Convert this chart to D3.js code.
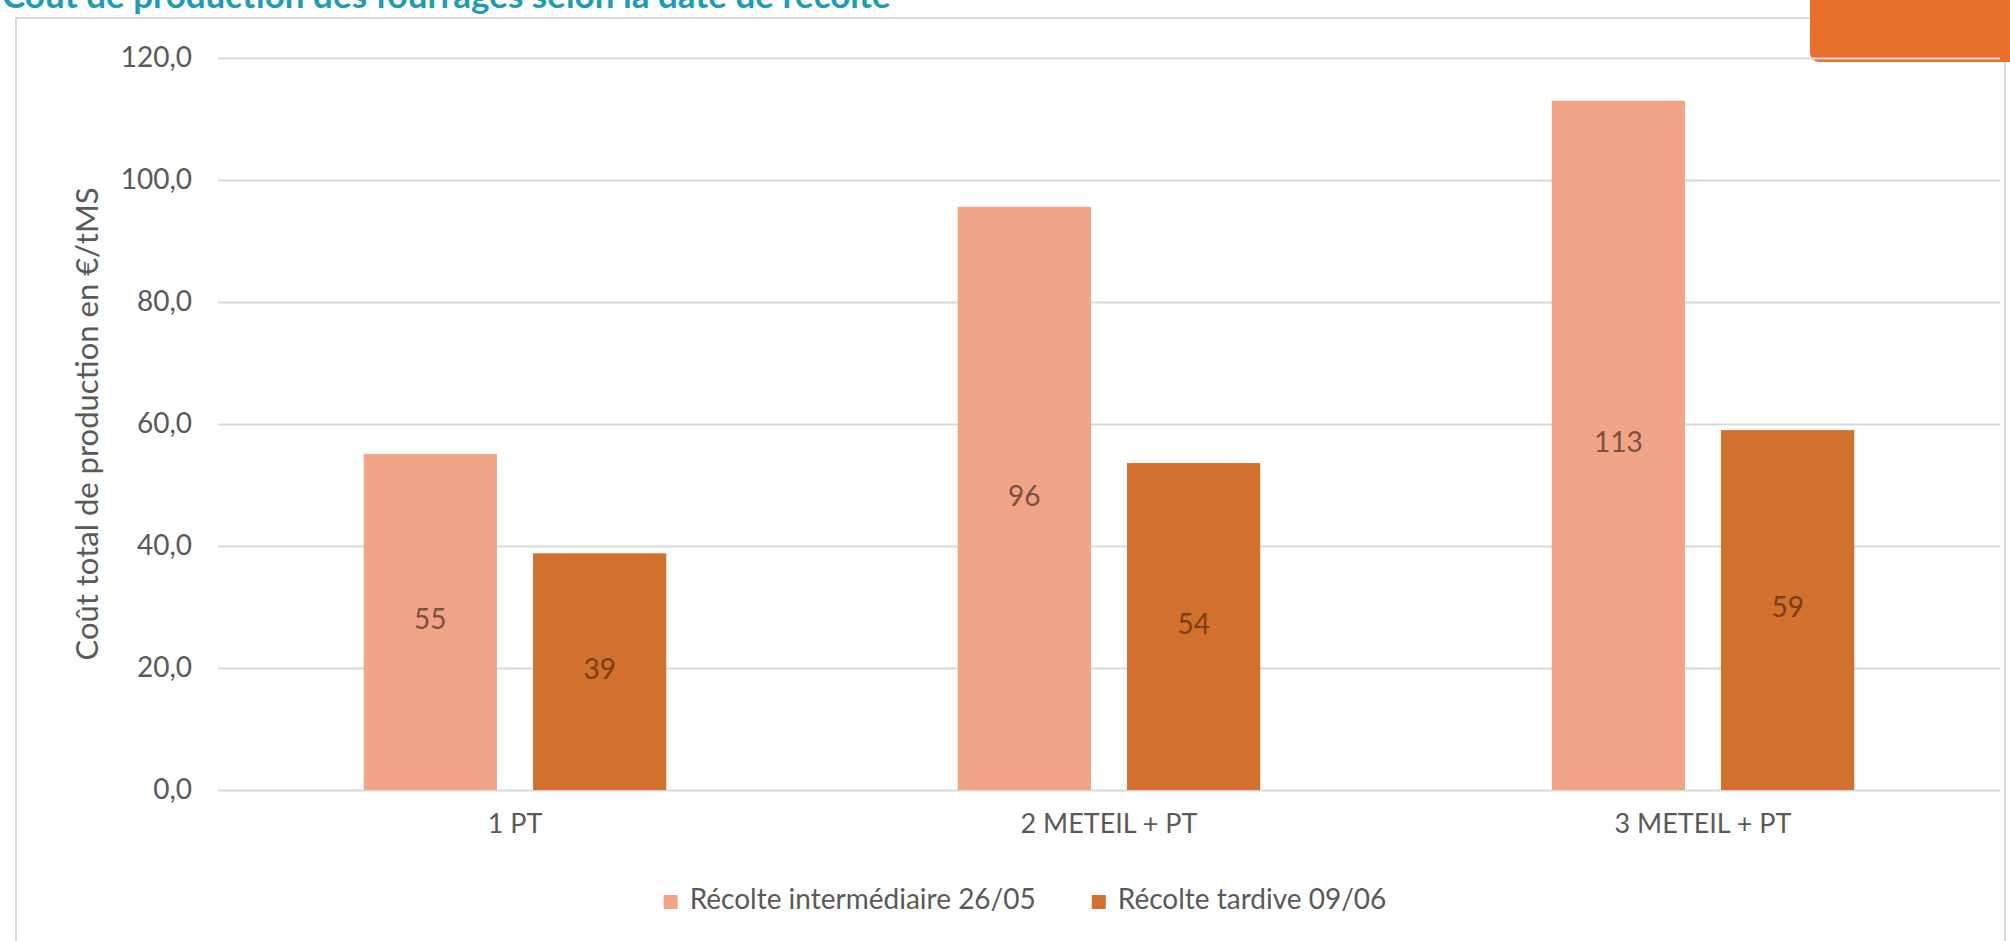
<!DOCTYPE html>
<html>
<head>
<meta charset="utf-8">
<script src="https://cdn.jsdelivr.net/npm/d3@7"></script>
<style>
  html, body { margin: 0; padding: 0; background: #ffffff; }
  svg { display: block; }
  text { font-family: Lato, "Open Sans", sans-serif; }
</style>
</head>
<body>
<svg id="chart" width="2010" height="941"></svg>
<script>
// ---- data ----
const categories = ["1 PT", "2 METEIL + PT", "3 METEIL + PT"];
const seriesNames = ["Récolte intermédiaire 26/05", "Récolte tardive 09/06"];
const interValues = [55.1, 95.6, 113.0];
const tardiveValues = [38.8, 53.6, 59.0];
const yTicks = [0, 20, 40, 60, 80, 100, 120];
const yTitle = "Coût total de production en €/tMS";
const pageTitle = "Coût de production des fourrages selon la date de récolte";

// ---- layout / style ----
const plot = { left: 218, right: 2000, top: 58, bottom: 790 };
const colors = ["#EFA586", "#D2702E"];
const labelColors = ["#7d5140", "#7a3d14"];
const gridColor = "#d9d9d9";
const textColor = "#595959";

const svg = d3.select("#chart");
const fr = d3.formatLocale({ decimal: ",", thousands: " ", grouping: [3], currency: ["", " €"] });

// page title (cut at top, as in the reference)
svg.append("text")
  .attr("x", 2).attr("y", 8)
  .attr("fill", "#1f9bb3").attr("font-weight", "bold").attr("font-size", 35)
  .text(pageTitle);

// frame
svg.append("rect")
  .attr("x", 16).attr("y", 18).attr("width", 1989).attr("height", 960)
  .attr("fill", "none").attr("stroke", "#d9d9d9").attr("stroke-width", 2);

// orange tab top right
svg.append("rect")
  .attr("x", 1810).attr("y", -20).attr("width", 240).attr("height", 82)
  .attr("rx", 9).attr("fill", "#E8702C");

// scales
const y = d3.scaleLinear().domain([0, 120]).range([plot.bottom, plot.top]);
const x0 = d3.scaleBand().domain(categories).range([plot.left, plot.right]).padding(0);
const x1 = d3.scaleBand().domain(seriesNames).range([0, x0.bandwidth()])
  .paddingInner(0.213).paddingOuter(0.861);

// gridlines
const grid = svg.append("g").attr("transform", `translate(${plot.right},0)`)
  .call(d3.axisLeft(y).tickValues(yTicks).tickSize(plot.right - plot.left).tickFormat(""));
grid.select(".domain").remove();
grid.selectAll("line").attr("stroke", gridColor).attr("stroke-width", 2);

// y axis labels
const yAx = svg.append("g").attr("transform", `translate(${plot.left},0)`)
  .call(d3.axisLeft(y).tickValues(yTicks).tickSize(0).tickPadding(26).tickFormat(fr.format(".1f")));
yAx.select(".domain").remove();
yAx.selectAll("text").attr("fill", textColor).attr("font-size", 28)
  .style("font-family", "Lato, sans-serif");

// y title
svg.append("text")
  .attr("transform", `translate(90,${(plot.top + plot.bottom) / 2}) rotate(-90)`)
  .attr("text-anchor", "middle").attr("dominant-baseline", "middle")
  .attr("fill", textColor).attr("font-size", 31)
  .text(yTitle);

// bars
const rows = categories.map((c, i) => ({ cat: c, vals: [interValues[i], tardiveValues[i]] }));
const groups = svg.append("g").selectAll("g").data(rows).join("g")
  .attr("transform", d => `translate(${x0(d.cat)},0)`);
groups.selectAll("rect").data(d => d.vals.map((v, k) => ({ k, v, s: seriesNames[k] })))
  .join("rect")
  .attr("x", d => x1(d.s)).attr("width", x1.bandwidth())
  .attr("y", d => y(d.v)).attr("height", d => y(0) - y(d.v))
  .attr("fill", d => colors[d.k]);
groups.selectAll("text.lbl").data(d => d.vals.map((v, k) => ({ k, v, s: seriesNames[k] })))
  .join("text").attr("class", "lbl")
  .attr("x", d => x1(d.s) + x1.bandwidth() / 2)
  .attr("y", d => (y(d.v) + y(0)) / 2)
  .attr("text-anchor", "middle").attr("dominant-baseline", "middle")
  .attr("fill", d => labelColors[d.k]).attr("font-size", 28)
  .text(d => d3.format(".0f")(d.v));

// x axis labels
const xAx = svg.append("g").attr("transform", `translate(0,${plot.bottom})`)
  .call(d3.axisBottom(x0).tickSize(0).tickPadding(24));
xAx.select(".domain").remove();
xAx.selectAll("text").attr("fill", textColor).attr("font-size", 27)
  .style("font-family", "Lato, sans-serif");

// legend
const legY = 902, sq = 14, gapText = 12, gapItem = 56;
const leg = svg.append("g");
const items = leg.selectAll("g").data(seriesNames).join("g");
items.append("rect").attr("width", sq).attr("height", sq).attr("y", legY - sq / 2)
  .attr("fill", (d, i) => colors[i]);
items.append("text").attr("x", sq + gapText).attr("y", legY)
  .attr("dominant-baseline", "middle").attr("fill", textColor).attr("font-size", 28)
  .text(d => d);
let widths = [];
items.each(function () { widths.push(sq + gapText + d3.select(this).select("text").node().getComputedTextLength()); });
const total = d3.sum(widths) + gapItem * (widths.length - 1);
let cx = 1025 - total / 2;
items.attr("transform", (d, i) => { const t = `translate(${cx},0)`; cx += widths[i] + gapItem; return t; });
</script>
</body>
</html>
